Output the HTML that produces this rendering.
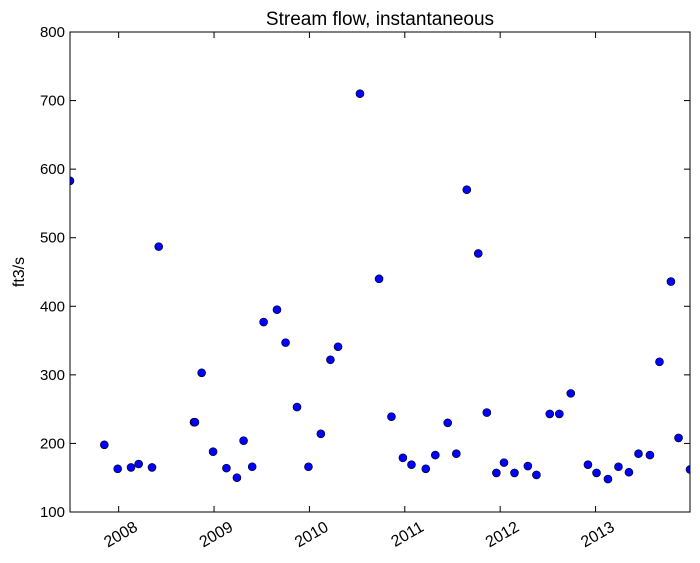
<!DOCTYPE html>
<html><head><meta charset="utf-8"><style>
body{margin:0;background:#fff;}
svg{display:block;font-family:"Liberation Sans",sans-serif;}
</style></head><body>
<svg id="chart" width="700" height="563">
<defs><clipPath id="clip"><rect x="70" y="32" width="620" height="480"/></clipPath></defs>
<rect x="0" y="0" width="700" height="563" fill="#fff"/>
<text x="380" y="25" font-size="19" text-anchor="middle">Stream flow, instantaneous</text>
<text transform="translate(24,272) rotate(-90)" font-size="16" text-anchor="middle">ft3/s</text>
<g id="ticks"></g>
<g id="points" clip-path="url(#clip)"></g>
<rect x="70" y="32" width="620" height="480" fill="none" stroke="#000" stroke-width="1"/>
</svg>
<script>
const dates=[2007.49,2007.85,2007.99,2008.13,2008.21,2008.35,2008.42,2008.79,2008.80,2008.87,2008.99,2009.13,2009.24,2009.31,2009.40,2009.52,2009.66,2009.75,2009.87,2009.99,2010.12,2010.22,2010.30,2010.53,2010.73,2010.86,2010.98,2011.07,2011.22,2011.32,2011.45,2011.54,2011.65,2011.77,2011.86,2011.96,2012.04,2012.15,2012.29,2012.38,2012.52,2012.62,2012.74,2012.92,2013.01,2013.13,2013.24,2013.35,2013.45,2013.57,2013.67,2013.79,2013.87,2013.99];
const flows=[583,198,163,165,170,165,487,231,231,303,188,164,150,204,166,377,395,347,253,166,214,322,341,710,440,239,179,169,163,183,230,185,570,477,245,157,172,157,167,154,243,243,273,169,157,148,166,158,185,183,319,436,208,162];
const yTicks=[100,200,300,400,500,600,700,800];
const xTicks=[2008,2009,2010,2011,2012,2013];
const xMin=2007.49,xMax=2013.99,yMin=100,yMax=800;
const L=70,R=690,T=32,B=512;
const sx=v=>L+(v-xMin)/(xMax-xMin)*(R-L);
const sy=v=>B-(v-yMin)/(yMax-yMin)*(B-T);
const NS="http://www.w3.org/2000/svg";
const tg=document.getElementById('ticks'),pg=document.getElementById('points');
function mk(tag,a,p){const e=document.createElementNS(NS,tag);for(const k in a)e.setAttribute(k,a[k]);p.appendChild(e);return e;}
yTicks.forEach(v=>{const y=sy(v);
const l1=mk('line',{x1:L,x2:L+6,y1:y,y2:y,stroke:'#000'},tg);


const l2=mk('line',{x1:R-6,x2:R,y1:y,y2:y,stroke:'#000'},tg);


const t=mk('text',{x:L-5,y:y+5,'font-size':15,'text-anchor':'end'},tg);t.textContent=v;

});
xTicks.forEach(v=>{const x=sx(v);
const l1=mk('line',{x1:x,x2:x,y1:B,y2:B-6,stroke:'#000'},tg);


const l2=mk('line',{x1:x,x2:x,y1:T,y2:T+6,stroke:'#000'},tg);


const t=mk('text',{transform:`translate(${x+20},${B+18}) rotate(-30)`,'font-size':16,'text-anchor':'end'},tg);t.textContent=v;

});
dates.forEach((d,i)=>{const c=mk('circle',{cx:sx(d),cy:sy(flows[i]),r:4,fill:'#0000ff',stroke:'#000','stroke-width':0.6},pg);

});
</script>
</body></html>
